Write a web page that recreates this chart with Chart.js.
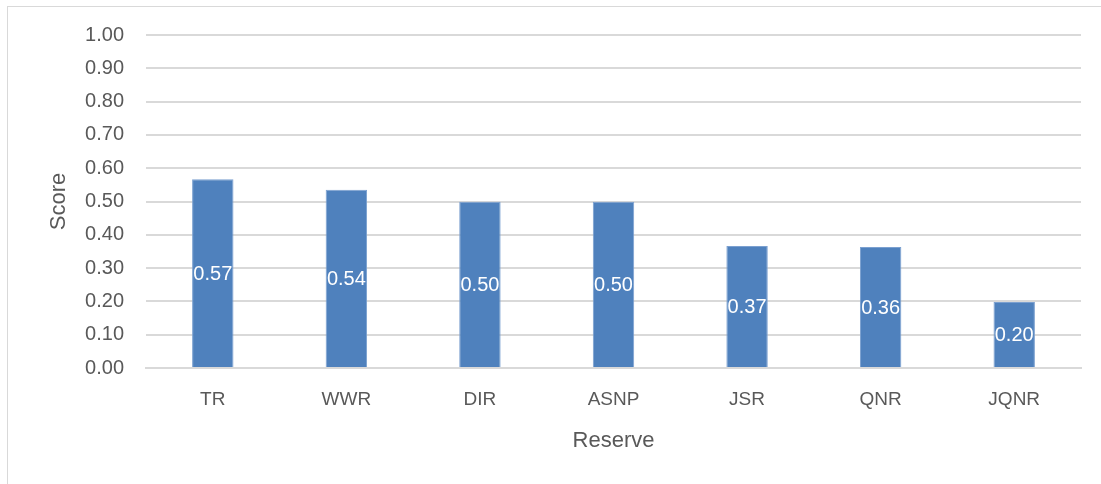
<!DOCTYPE html>
<html>
<head>
<meta charset="utf-8">
<script src="https://cdn.jsdelivr.net/npm/chart.js@4"></script>
<style>
  html, body { margin: 0; padding: 0; background: #fff; }
  #frame { position: absolute; left: 7px; top: 6px; width: 1110px; height: 500px; border: 1px solid #d9d9d9; box-sizing: border-box; }
  #wrap { position: absolute; left: 0; top: 0; width: 1101px; height: 484px; }
</style>
</head>
<body>
<div id="frame"></div>
<div id="wrap"><canvas id="c" width="1101" height="484"></canvas></div>
<script>
const categories = ["TR", "WWR", "DIR", "ASNP", "JSR", "QNR", "JQNR"];
const scores = [0.567, 0.535, 0.499, 0.499, 0.366, 0.363, 0.198];
const valueLabels = ["0.57", "0.54", "0.50", "0.50", "0.37", "0.36", "0.20"];
const yTicks = [0, 0.1, 0.2, 0.3, 0.4, 0.5, 0.6, 0.7, 0.8, 0.9, 1.0];

const FONT = "'Liberation Sans', Arial, sans-serif";
const TEXT = "#595959";

const barLabels = {
  id: 'barLabels',
  afterDatasetsDraw(chart) {
    const ctx = chart.ctx;
    const meta = chart.getDatasetMeta(0);
    ctx.save();
    ctx.fillStyle = '#ffffff';
    ctx.font = '20px ' + FONT;
    ctx.textAlign = 'center';
    ctx.textBaseline = 'middle';
    meta.data.forEach((bar, i) => {
      const mid = (bar.y + bar.base) / 2;
      ctx.fillText(valueLabels[i], bar.x, mid + 1);
    });
    ctx.restore();
  }
};

new Chart(document.getElementById('c'), {
  type: 'bar',
  data: {
    labels: categories,
    datasets: [{
      data: scores,
      backgroundColor: '#4f81bd',
      borderColor: '#7ba0d0',
      borderWidth: 1,
      barPercentage: 0.31,
      categoryPercentage: 1.0
    }]
  },
  options: {
    responsive: false,
    animation: false,
    devicePixelRatio: 1,
    layout: { padding: { left: 0, right: 20, top: 35, bottom: 30 } },
    plugins: { legend: { display: false }, tooltip: { enabled: false } },
    scales: {
      x: {
        grid: { display: false, drawTicks: false },
        border: { display: true, color: '#d9d9d9', width: 2 },
        ticks: { color: TEXT, font: { family: FONT, size: 19 }, padding: 20 },
        title: { display: true, text: 'Reserve', color: TEXT, font: { family: FONT, size: 22 }, padding: { top: 8, bottom: 0 } },
        afterFit(scale) { scale.height = 86; }
      },
      y: {
        min: 0, max: 1,
        afterBuildTicks(scale) { scale.ticks = yTicks.map(v => ({ value: v })); },
        grid: { color: '#d9d9d9', lineWidth: 2, drawTicks: false },
        border: { display: false },
        ticks: { color: TEXT, font: { family: FONT, size: 20 }, padding: 22, callback: v => Number(v).toFixed(2) },
        title: { display: true, text: 'Score', color: TEXT, font: { family: FONT, size: 22 }, padding: { top: 46, bottom: 0 } },
        afterFit(scale) { scale.width = 146; }
      }
    }
  },
  plugins: [barLabels]
});
</script>
</body>
</html>
